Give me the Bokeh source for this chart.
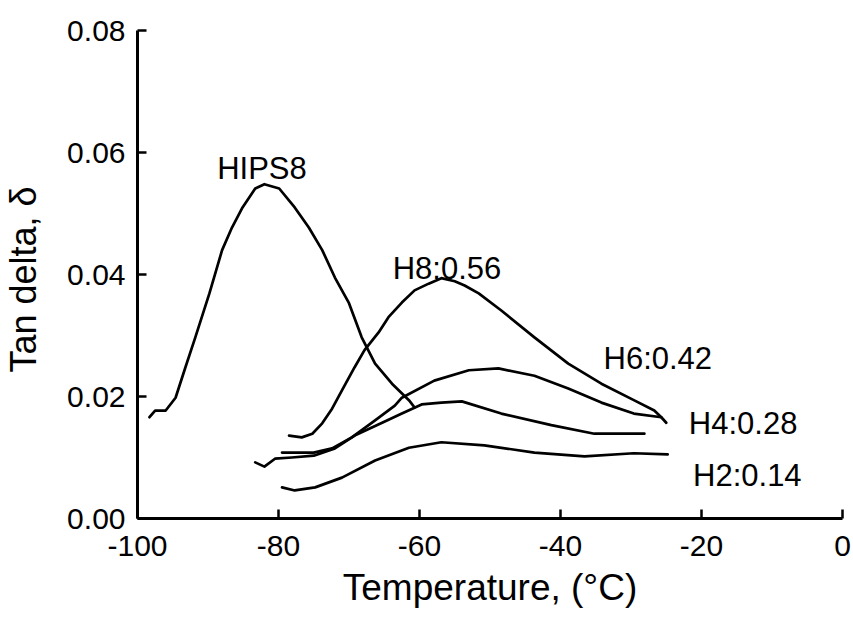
from bokeh.plotting import figure
from bokeh.models import Range1d, FixedTicker, NumeralTickFormatter, Label
from bokeh.embed import file_html
from bokeh.resources import INLINE

# ---- data ----
hips8_x = [-98.3, -97.5, -96.0, -94.6, -93.2, -91.8, -89.8, -88.0, -86.6, -85.1, -83.3, -82.0, -79.9, -77.7, -75.7, -73.8, -72.0, -70.0, -68.2, -66.3, -63.9, -61.5, -60.7]
hips8_y = [0.0166, 0.0177, 0.0177, 0.0198, 0.0248, 0.0297, 0.0369, 0.0440, 0.0477, 0.0510, 0.0541, 0.0548, 0.0541, 0.0510, 0.0477, 0.0440, 0.0395, 0.0353, 0.0297, 0.0254, 0.0221, 0.0194, 0.0182]

h8_x = [-78.5, -76.7, -75.2, -73.8, -72.4, -71.0, -69.2, -67.8, -65.8, -64.4, -62.5, -60.7, -58.7, -56.9, -55.0, -53.6, -51.6, -48.4, -43.7, -38.9, -34.2, -29.6, -26.7, -25.7, -25.0]
h8_y = [0.0136, 0.0133, 0.0139, 0.0156, 0.0180, 0.0210, 0.0248, 0.0276, 0.0305, 0.0330, 0.0354, 0.0374, 0.0385, 0.0394, 0.0389, 0.0382, 0.0369, 0.0341, 0.0297, 0.0254, 0.0221, 0.0194, 0.0177, 0.0166, 0.0157]

h6_x = [-79.5, -75.0, -72.4, -69.6, -66.3, -63.5, -62.5, -57.9, -53.0, -48.8, -43.7, -38.9, -34.2, -29.6, -25.7]
h6_y = [0.0108, 0.0108, 0.0115, 0.0133, 0.0161, 0.0185, 0.0198, 0.0226, 0.0243, 0.0246, 0.0234, 0.0213, 0.0190, 0.0172, 0.0166]

h4_x = [-83.3, -82.0, -80.5, -78.1, -75.0, -72.0, -69.2, -65.3, -62.5, -59.7, -56.9, -54.0, -48.4, -41.3, -35.2, -28.1]
h4_y = [0.0092, 0.0085, 0.0098, 0.0100, 0.0103, 0.0115, 0.0136, 0.0157, 0.0172, 0.0187, 0.0190, 0.0192, 0.0172, 0.0153, 0.0139, 0.0139]

h2_x = [-79.5, -77.7, -74.8, -71.0, -66.3, -61.5, -56.9, -50.8, -43.7, -36.6, -29.6, -24.8]
h2_y = [0.0051, 0.0046, 0.0051, 0.0067, 0.0095, 0.0116, 0.0125, 0.0120, 0.0108, 0.0102, 0.0107, 0.0105]

curve_names = ["HIPS8", "H8:0.56", "H6:0.42", "H4:0.28", "H2:0.14"]
label_x = [-88.7, -63.8, -33.9, -21.8, -21.2]
label_y = [0.0574, 0.0410, 0.0262, 0.0156, 0.0071]

x_ticks = [-100, -80, -60, -40, -20, 0]
x_tick_labels = ["-100", "-80", "-60", "-40", "-20", "0"]
y_ticks = [0.00, 0.02, 0.04, 0.06, 0.08]

FONT = "Liberation Sans"

p = figure(width=853, height=619, output_backend="svg", toolbar_location=None,
           x_range=Range1d(-100, 0), y_range=Range1d(0, 0.08),
           min_border_left=136, min_border_right=11, min_border_top=30, min_border_bottom=101)
p.grid.visible = False
p.outline_line_color = None
p.background_fill_color = "white"
p.border_fill_color = "white"

for xs, ys in [(hips8_x, hips8_y), (h8_x, h8_y), (h6_x, h6_y), (h4_x, h4_y), (h2_x, h2_y)]:
    p.line(xs, ys, line_color="black", line_width=2.7, line_join="round", line_cap="round")

for name, lx, ly in zip(curve_names, label_x, label_y):
    p.add_layout(Label(x=lx, y=ly, text=name, text_font=FONT, text_font_size="31px",
                       text_color="black", text_baseline="alphabetic", text_align="left"))

xa = p.xaxis[0]
xa.ticker = FixedTicker(ticks=x_ticks)
xa.major_label_overrides = {t: s for t, s in zip(x_ticks, x_tick_labels)}
xa.axis_label = "Temperature, (°C)"

ya = p.yaxis[0]
ya.ticker = FixedTicker(ticks=y_ticks)
ya.formatter = NumeralTickFormatter(format="0.00")
ya.axis_label = "Tan delta,  δ"

for ax in (xa, ya):
    ax.axis_line_width = 3
    ax.axis_line_color = "black"
    ax.major_tick_in = 9
    ax.major_tick_out = 0
    ax.major_tick_line_width = 2.5
    ax.minor_tick_line_color = None
    ax.major_label_text_font = FONT
    ax.major_label_text_font_size = "30px"
    ax.major_label_text_color = "black"
    ax.axis_label_text_font = FONT
    ax.axis_label_text_font_style = "normal"
    ax.axis_label_text_color = "black"

xa.axis_label_text_font_size = "37px"
ya.axis_label_text_font_size = "36px"
xa.major_label_standoff = 17
xa.axis_label_standoff = 8
ya.major_label_standoff = 12
ya.axis_label_standoff = 20

open("out.html", "w").write(file_html(p, INLINE))
